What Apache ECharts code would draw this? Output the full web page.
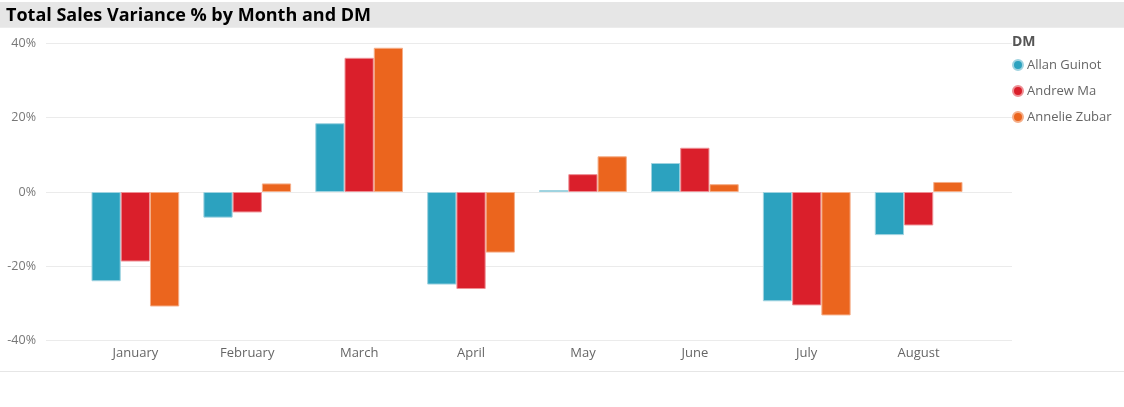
<!DOCTYPE html>
<html>
<head>
<meta charset="utf-8">
<script src="https://cdn.jsdelivr.net/npm/echarts@6/dist/echarts.min.js"></script>
<style>
html,body{margin:0;padding:0;background:#fff;}
#c{width:1124px;height:407px;}
</style>
</head>
<body>
<div id="c"></div>
<script>
const months = ["January","February","March","April","May","June","July","August"];
const seriesNames = ["Allan Guinot","Andrew Ma","Annelie Zubar"];
const allanGuinot = [-24.0, -6.9, 18.5, -24.9, 0.5, 7.8, -29.4, -11.6];
const andrewMa = [-18.7, -5.5, 36.1, -26.1, 4.8, 11.9, -30.5, -9.0];
const annelieZubar = [-30.8, 2.3, 38.8, -16.3, 9.6, 2.1, -33.2, 2.7];
const yTicks = [-40, -20, 0, 20, 40];

const colors = ["#2CA2BF", "#DA1F2B", "#EB651E"];
const borders = ["#9fd3e0", "#ee9095", "#f5ae88"];
const font = "'Segoe UI', 'Open Sans', sans-serif";

const chart = echarts.init(document.getElementById('c'), null, {renderer: 'canvas'});
const gridTop = 43.3, gridBottom = 407 - 340.7;
const yMin = yTicks[0], yMax = yTicks[yTicks.length - 1], yStep = yTicks[1] - yTicks[0];

const dataSets = [allanGuinot, andrewMa, annelieZubar];
chart.setOption({
  animation: false,
  color: colors,
  graphic: [
    {type: 'rect', left: 0, top: 2, shape: {width: 1124, height: 25.7}, style: {fill: '#e6e6e6'}, z: 0},
    {type: 'text', x: 6, y: 16, style: {text: 'Total Sales Variance % by Month and DM', fill: '#000', font: "bold 18px " + font, verticalAlign: 'middle'}, z: 1},
    {type: 'text', x: 1012, y: 42.5, style: {text: 'DM', fill: '#555', font: "bold 14px " + font, verticalAlign: 'middle'}, z: 1},
    {type: 'rect', left: 0, top: 371, shape: {width: 1124, height: 1}, style: {fill: '#e6e6e6'}, z: 0}
  ],
  legend: {
    orient: 'vertical',
    left: 1012,
    top: 57,
    icon: 'circle',
    itemWidth: 10,
    itemHeight: 10,
    itemGap: 10,
    padding: 0,
    data: seriesNames,
    textStyle: {color: '#666', fontSize: 13, fontFamily: font, lineHeight: 16, padding: [0, 0, 0, -1]}
  },
  grid: [
    {left: 46, right: 1124 - 1012, top: gridTop, bottom: gridBottom, containLabel: false},
    {left: 79.4, right: 1124 - 974.6, top: gridTop, bottom: gridBottom, containLabel: false}
  ],
  xAxis: [
    {type: 'value', gridIndex: 0, show: false, min: 0, max: 1},
    {type: 'category', gridIndex: 1, data: months,
     axisLine: {show: false}, axisTick: {show: false},
     axisLabel: {color: '#666', fontSize: 13, fontFamily: font, margin: 6}}
  ],
  yAxis: [
    {type: 'value', gridIndex: 0, min: yMin, max: yMax, interval: yStep,
     axisLine: {show: false}, axisTick: {show: false},
     splitLine: {lineStyle: {color: '#ebebeb', width: 1}},
     axisLabel: {color: '#777', fontSize: 12.5, fontFamily: font, margin: 10, formatter: v => v + '%'}},
    {type: 'value', gridIndex: 1, min: yMin, max: yMax, interval: yStep, show: false,
     splitLine: {show: false}}
  ],
  series: seriesNames.map((n, i) => ({
    name: n,
    type: 'bar',
    xAxisIndex: 1,
    yAxisIndex: 1,
    data: dataSets[i],
    barGap: '0%',
    barCategoryGap: '21.6%',
    itemStyle: {color: colors[i], borderColor: borders[i], borderWidth: 1}
  }))
});
</script>
</body>
</html>
